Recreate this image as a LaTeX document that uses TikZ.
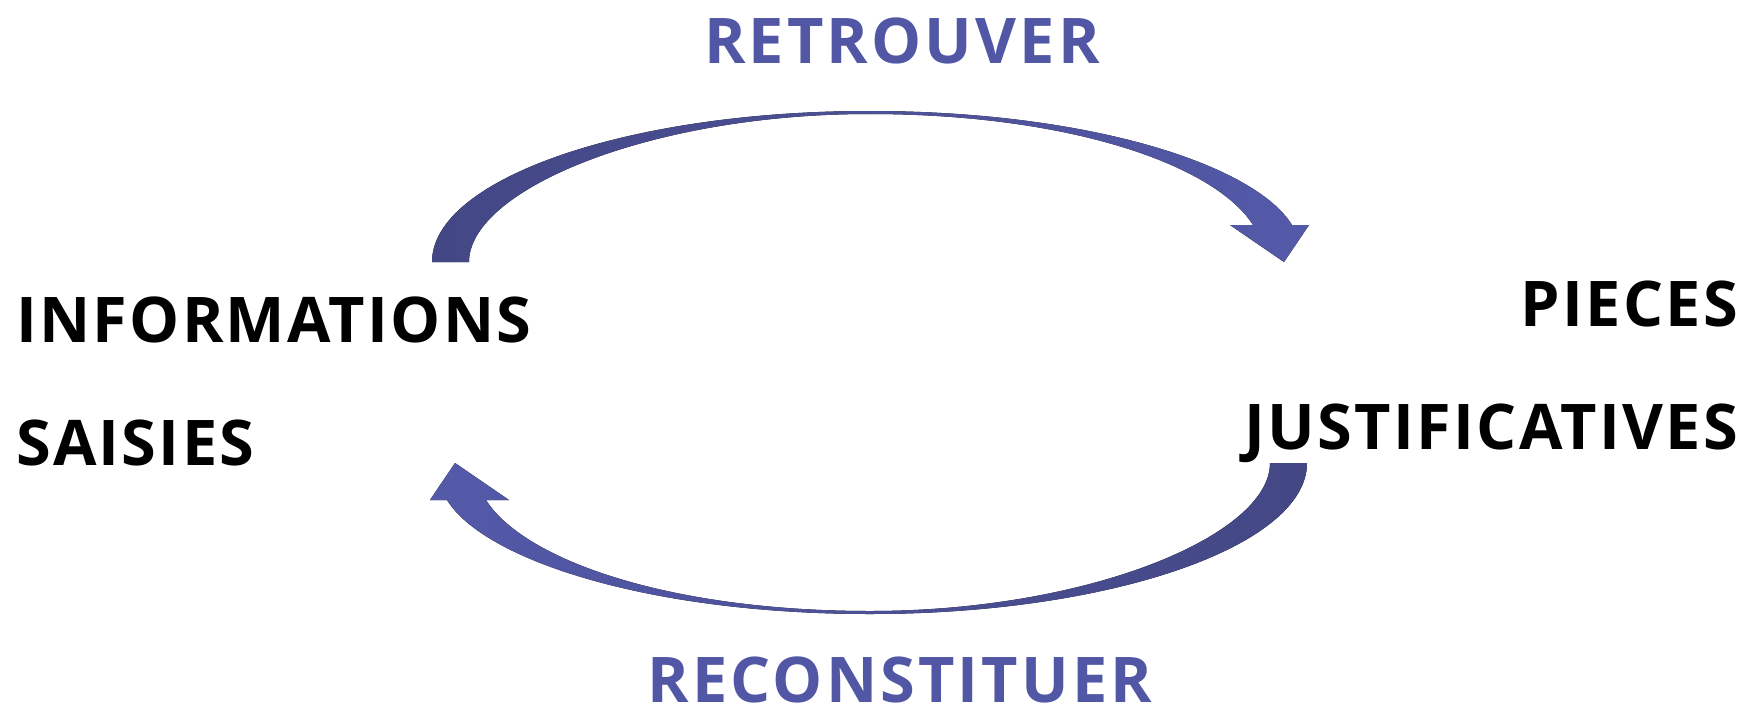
\documentclass[tikz,border=0pt]{standalone}
\usepackage{fontspec}
\setmainfont{Open Sans}
\usepackage{tikz}
\usetikzlibrary{positioning, calc}
\definecolor{arrowdark}{HTML}{434784}
\definecolor{arrowlight}{HTML}{5459A9}
\definecolor{verbblue}{HTML}{5157A5}

\begin{document}
\begin{tikzpicture}[
  x=1pt, y=-1pt,
  line join=round,
  term/.style={inner sep=0pt, text=black,
               font=\fontsize{63}{123}\selectfont\bfseries\addfontfeature{LetterSpace=3.6}},
  verb/.style={inner sep=0pt, text=verbblue, text depth=0pt,
               font=\fontsize{63}{70}\selectfont\bfseries\addfontfeature{LetterSpace=5}},
  swoosh/.style={draw=none}
]
\useasboundingbox (0,0) rectangle (1747,712);
%% the two sides
\node[term, anchor=base west, align=left] (info) at (16,465)
  {INFORMATIONS\\SAISIES};
\node[term, anchor=base east, align=right] (pieces) at (1738,449)
  {PIECES\\JUSTIFICATIVES};
%% verbs above and below
\node[verb, anchor=base] (retrouver) at (902,63) {RETROUVER};
\node[verb, anchor=base] (reconst) at (900,702) {RECONSTITUER};
%% upper swoosh: info -> pieces
\fill[swoosh, left color=arrowdark, right color=arrowlight]
  (432,262) .. controls (432,179) and (628,111) .. (869,111)
  .. controls (1090,111) and (1255,165) .. (1292,225)
  -- (1309,225) -- (1284,262) -- (1230,225) -- (1253,225)
  .. controls (1215,165) and (1070,114) .. (869,114)
  .. controls (650,114) and (469,190) .. (469,262) -- cycle;
%% lower swoosh: pieces -> info
\fill[swoosh, left color=arrowlight, right color=arrowdark]
  (1307,463) .. controls (1307,546) and (1111,614) .. (870,614)
  .. controls (649,614) and (484,560) .. (447,500)
  -- (430,500) -- (455,463) -- (509,500) -- (486,500)
  .. controls (524,560) and (669,611) .. (870,611)
  .. controls (1089,611) and (1270,535) .. (1270,463) -- cycle;
\end{tikzpicture}
\end{document}
